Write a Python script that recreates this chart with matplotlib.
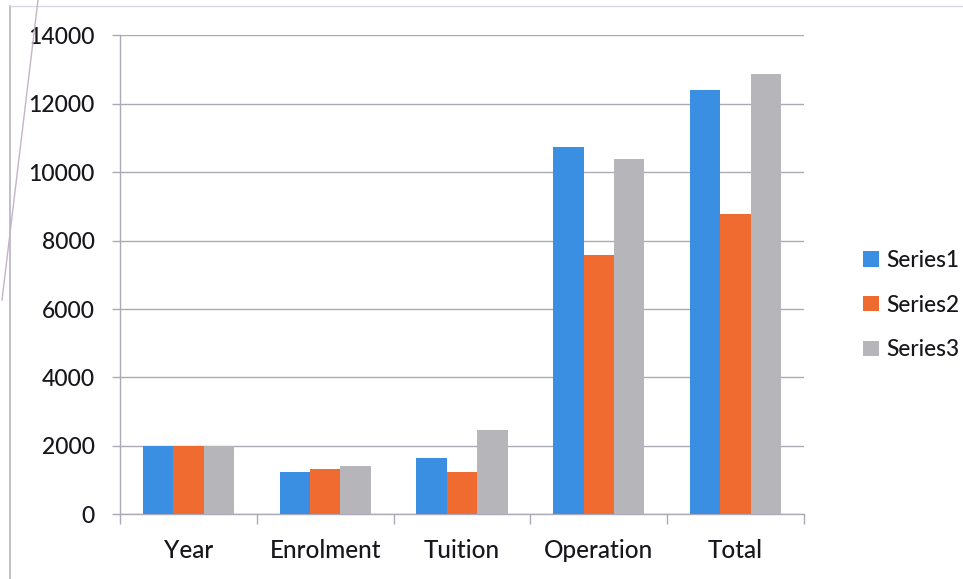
import matplotlib
matplotlib.use("Agg")
import matplotlib.pyplot as plt
from matplotlib.patches import Patch
from matplotlib.lines import Line2D
import numpy as np

plt.rcParams['font.family'] = ['Lato', 'DejaVu Sans']

categories = ["Year", "Enrolment", "Tuition", "Operation", "Total"]
series_names = ["Series1", "Series2", "Series3"]
series1 = [2000, 1240, 1640, 10740, 12400]
series2 = [2000, 1310, 1230, 7570, 8770]
series3 = [2000, 1420, 2460, 10390, 12870]
y_ticks = [0, 2000, 4000, 6000, 8000, 10000, 12000, 14000]

colors = ["#3b8fe2", "#f06b2f", "#b6b5ba"]
grid_color = "#a9a9b8"
text_color = "#16161c"

fig = plt.figure(figsize=(9.63, 5.79), dpi=100)
ax = fig.add_axes([120 / 963, 1 - 514.3 / 579, (804 - 120) / 963, (514.3 - 35.3) / 579])

x = np.arange(len(categories))
width = 0.222
for i, (vals, name) in enumerate(zip([series1, series2, series3], series_names)):
    ax.bar(x + (i - 1) * width, vals, width=width, color=colors[i], label=name, zorder=3)

ax.set_xlim(-0.5, len(categories) - 0.5)
ax.set_ylim(0, 14000)
ax.set_yticks(y_ticks)
ax.set_yticklabels([str(v) for v in y_ticks], fontsize=16.5, color=text_color, fontweight='medium')
ax.yaxis.grid(True, color=grid_color, linewidth=1.0, zorder=0)
ax.tick_params(axis='y', length=6, width=1, color=grid_color, pad=12)

# category boundaries carry the tick marks; labels sit at category centers
ax.set_xticks(np.arange(-0.5, len(categories)), labels=[""] * (len(categories) + 1))
ax.set_xticks(x, labels=categories, minor=True)
ax.tick_params(axis='x', which='major', length=7, width=1, color=grid_color)
ax.tick_params(axis='x', which='minor', length=0, pad=18, labelsize=17.5, labelcolor=text_color)
for lbl in ax.get_xticklabels(minor=True):
    lbl.set_fontweight('medium')

for side in ['top', 'right']:
    ax.spines[side].set_visible(False)
for side in ['left', 'bottom']:
    ax.spines[side].set_color(grid_color)
    ax.spines[side].set_linewidth(1.0)

handles = [Patch(facecolor=c, edgecolor='none') for c in colors]
leg = fig.legend(handles, series_names, loc='center left', bbox_to_anchor=(843 / 963, 1 - 305 / 579),
                 frameon=False, fontsize=16.3, handlelength=0.68, handleheight=0.68,
                 handletextpad=0.35, labelspacing=1.05, labelcolor=text_color)
for t in leg.get_texts():
    t.set_fontweight('medium')

# outer chart frame and the slanted edge line
fig.add_artist(Line2D([10 / 963, 10 / 963], [0, 1 - 6 / 579], transform=fig.transFigure,
                      color="#b4b4c2", linewidth=1.2))
fig.add_artist(Line2D([10 / 963, 1], [1 - 6 / 579, 1 - 6 / 579], transform=fig.transFigure,
                      color="#d8d8e0", linewidth=1.0))
fig.add_artist(Line2D([38 / 963, 2 / 963], [1, 1 - 300 / 579], transform=fig.transFigure,
                      color="#c4b4c4", linewidth=1.0))

fig.savefig("out.png", dpi=100)
